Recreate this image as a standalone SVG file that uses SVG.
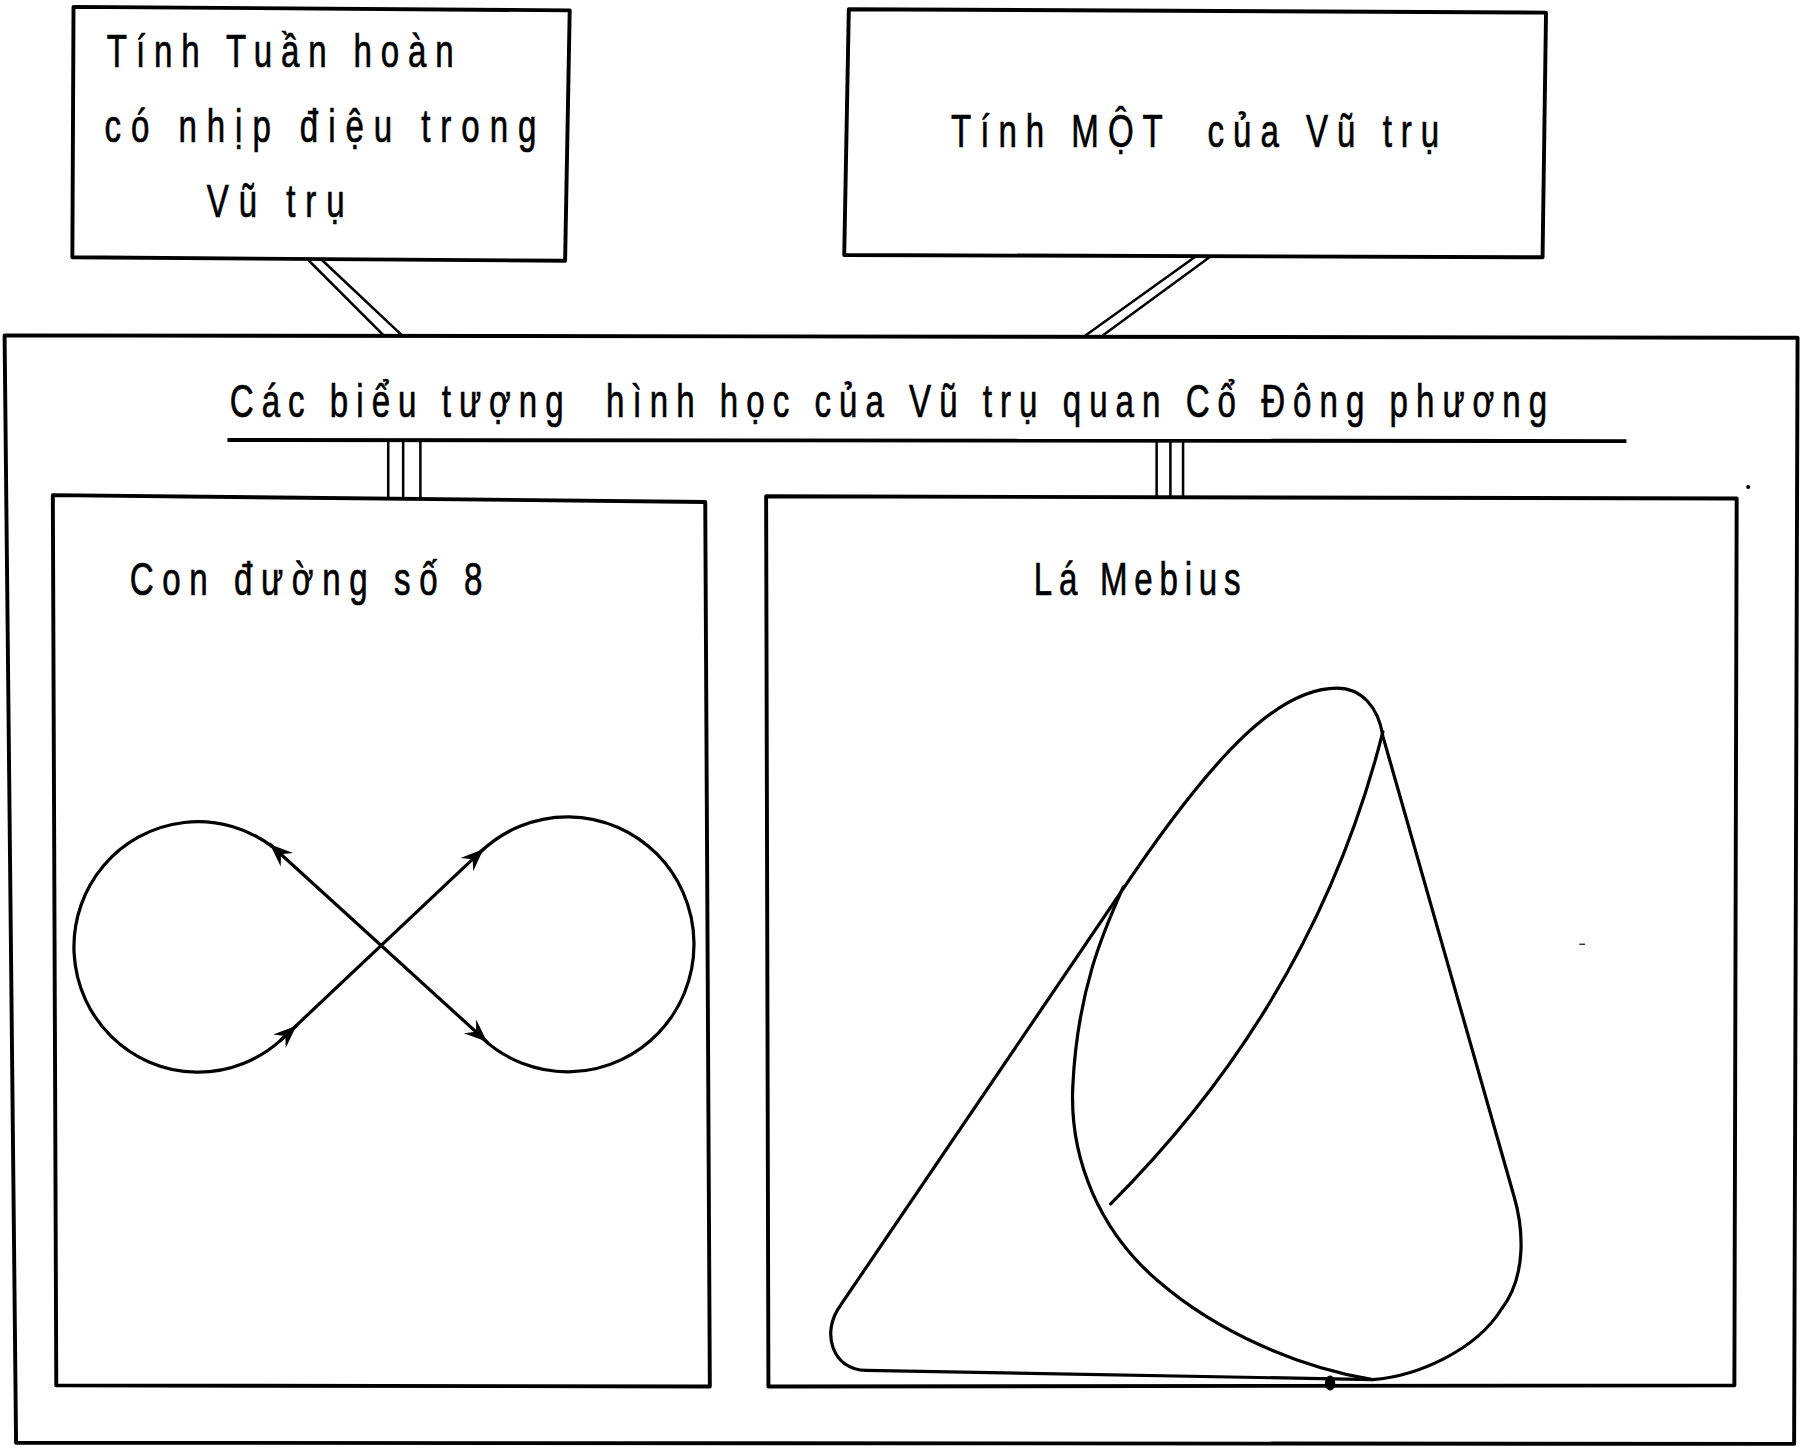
<svg xmlns="http://www.w3.org/2000/svg" width="1801" height="1452" viewBox="0 0 1801 1452">
<style>
.box{fill:none;stroke:#000;stroke-width:3.4;stroke-linejoin:round}
.ln{fill:none;stroke:#000;stroke-width:2.2;stroke-linecap:round}
.cv{fill:none;stroke:#000;stroke-width:2.8;stroke-linecap:round;stroke-linejoin:round}
.t{font-family:"Liberation Sans","Liberation Sans Narrow","DejaVu Sans",sans-serif;font-size:40px;fill:#000;stroke:#000;stroke-width:0.6;white-space:pre}
</style>
<defs>
<marker id="arr" markerUnits="userSpaceOnUse" viewBox="-22 -10 24 20" refX="0" refY="0" markerWidth="24" markerHeight="20" orient="auto">
<path d="M0,0 L-20,-8 L-13,0 L-20,8 Z" fill="#000"/>
</marker>
<marker id="arrs" markerUnits="userSpaceOnUse" viewBox="-22 -10 24 20" refX="0" refY="0" markerWidth="24" markerHeight="20" orient="auto-start-reverse">
<path d="M0,0 L-20,-8 L-13,0 L-20,8 Z" fill="#000"/>
</marker>
</defs>
<rect x="0" y="0" width="1801" height="1452" fill="#fff"/>
<g transform="scale(1.1486,1.1487)">
<g id="connectors">
<line class="ln" x1="269" y1="227" x2="334" y2="292"/>
<line class="ln" x1="281" y1="227" x2="350" y2="292"/>
<line class="ln" x1="1040" y1="224" x2="945" y2="292"/>
<line class="ln" x1="1053" y1="224" x2="960" y2="292"/>
<line class="ln" x1="338" y1="384" x2="338" y2="432"/>
<line class="ln" x1="351" y1="384" x2="351" y2="433"/>
<line class="ln" x1="366" y1="384" x2="366" y2="434"/>
<line class="ln" x1="1007" y1="384" x2="1007" y2="433"/>
<line class="ln" x1="1019" y1="384" x2="1019" y2="433"/>
<line class="ln" x1="1030" y1="384" x2="1030" y2="433"/>
</g>
<g id="node-tuan-hoan">
<polygon class="box" points="64,6 496,9 492,227 63,224"/>
<text class="t" transform="scale(0.72,1)" x="129.2" y="58" textLength="419.4" lengthAdjust="spacing">Tính Tuần hoàn</text>
<text class="t" transform="scale(0.72,1)" x="126.4" y="124" textLength="522.2" lengthAdjust="spacing">có nhịp điệu trong</text>
<text class="t" transform="scale(0.72,1)" x="250" y="189" textLength="166.7" lengthAdjust="spacing">Vũ trụ</text>
</g>
<g id="node-mot">
<polygon class="box" points="739,8 1346,11 1343,224 735,222"/>
<text class="t" transform="scale(0.72,1)" x="1150" y="128" textLength="590.3" lengthAdjust="spacing">Tính MỘT  của Vũ trụ</text>
</g>
<g id="node-bieu-tuong">
<polygon class="box" points="4,292 1565,294 1562,1257 14,1256"/>
<text class="t" transform="scale(0.72,1)" x="277.8" y="363" textLength="1593" lengthAdjust="spacing">Các biểu tượng  hình học của Vũ trụ quan Cổ Đông phương</text>
<line x1="198" y1="383" x2="1416" y2="384" stroke="#000" stroke-width="3.4"/>
<circle cx="1522" cy="424" r="1.8" fill="#000"/>
<line x1="1375" y1="822" x2="1380" y2="822" stroke="#000" stroke-width="1"/>
</g>
<g id="node-so-8">
<polygon class="box" points="46,431 614,437 618,1207 49,1206"/>
<text class="t" transform="scale(0.72,1)" x="156.9" y="518" textLength="426.4" lengthAdjust="spacing">Con đường số 8</text>
<path class="cv" d="M237,737 A108,109 0 1 0 245,905"/>
<path class="cv" d="M418,742 A110,111 0 1 1 420,904"/>
<path class="cv" d="M245,905 L421,739" marker-end="url(#arr)"/>
<path class="cv" d="M424,907 L235,735" marker-start="url(#arrs)" marker-end="url(#arr)"/>
<path class="cv" d="M245,905 L258,893" marker-end="url(#arr)"/>
</g>
<g id="node-mebius">
<polygon class="box" points="667,432 1512,434 1510,1206 669,1207"/>
<text class="t" transform="scale(0.72,1)" x="1250" y="518" textLength="250" lengthAdjust="spacing">Lá Mebius</text>
<path class="cv" d="M732,1136 L975,778 C1060,651 1115,599 1164,599 C1185,599 1200,615 1204,641 L1318,1041 C1326,1068 1330,1110 1307,1140 C1285,1175 1235,1198 1195,1201 L754,1193 C725,1193 714,1160 732,1136 Z"/>
<path class="cv" d="M978,772 C962,808 938,860 934,946 C931,1010 958,1072 1008,1115 C1060,1160 1130,1190 1195,1201"/>
<path class="cv" d="M1204,637 Q1145,870 967,1048"/>
<ellipse cx="1158" cy="1204" rx="4.5" ry="6.5" fill="#000"/>
</g>
</g>
</svg>
